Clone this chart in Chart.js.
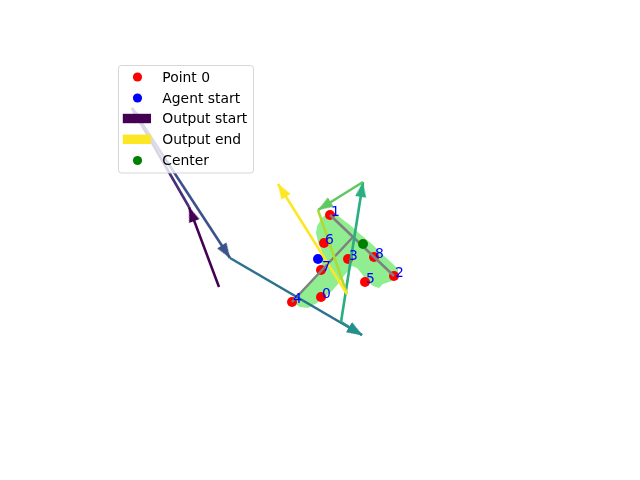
<!DOCTYPE html>
<html>
<head>
<meta charset="utf-8">
<script src="https://cdn.jsdelivr.net/npm/chart.js@4/dist/chart.umd.min.js"></script>
<style>
html,body{margin:0;padding:0;background:#fff;}
canvas{display:block;}
</style>
</head>
<body>
<canvas id="c" width="640" height="480"></canvas>
<script>
// ---------------- data ----------------
const pointLabels = ['0','1','2','3','4','5','6','7','8'];
const pointX = [321, 330, 394, 348, 292, 365, 324, 321, 374];
const pointY = [183, 265, 204, 221, 178, 198, 237, 210, 223];

const agentX = [318];
const agentY = [221];

const centerX = [363];
const centerY = [236];

const crossLineX = [[330, 394], [292, 353]];
const crossLineY = [[265, 204], [178, 243]];

const arrowStartX = [219, 189, 132, 230, 341, 341, 363, 318, 347];
const arrowStartY = [193, 273, 372, 222, 158, 158, 298, 270, 186];
const arrowEndX   = [189, 132, 230, 362, 362, 363, 318, 347, 278];
const arrowEndY   = [273, 372, 222, 145, 145, 298, 270, 186, 296];

const regionX = [317,322,328,335,342,350,360,373,383,392,398,398,392,383,379,373,367,362,357,352,348,343,338,332,325,317,308,300,294,296,302,310,318,322,322,318,316];
const regionY = [254,262,268,267,261,255,246,235,225,217,211,202,199,196,192,194,199,206,212,214,209,203,196,189,183,177,172,173,177,184,190,198,207,217,228,238,247];

const legendLabels = ['Point 0', 'Agent start', 'Output start', 'Output end', 'Center'];

// ---------------- styles ----------------
const viridis9 = ['#440154','#472d7b','#3b528b','#2c728e','#21918c','#28ae80','#5ec962','#addc30','#fde725'];
const arrowHasHead = [true, true, true, true, true, true, true, false, true];
const FONT = "13.9px 'DejaVu Sans', sans-serif";

function makeHead(color) {
  const L = 15, W = 5.5;
  const size = 2 * L + 2;
  const cv = document.createElement('canvas');
  cv.width = size; cv.height = size;
  const g = cv.getContext('2d');
  const cx = size / 2, cy = size / 2;
  g.fillStyle = color;
  g.beginPath();
  g.moveTo(cx, cy);
  g.lineTo(cx - L, cy - W);
  g.lineTo(cx - L, cy + W);
  g.closePath();
  g.fill();
  return cv;
}

const datasets = [];

// red points
datasets.push({
  data: pointX.map((x, i) => ({x, y: pointY[i]})),
  pointRadius: 5,
  pointBackgroundColor: '#ff0000',
  pointBorderWidth: 0,
  borderColor: '#ff0000',
  order: 95
});

// agent start
datasets.push({
  data: agentX.map((x, i) => ({x, y: agentY[i]})),
  pointRadius: 5,
  pointBackgroundColor: '#0000ff',
  pointBorderWidth: 0,
  order: 94
});

// cross lines
crossLineX.forEach((xs, k) => {
  datasets.push({
    data: xs.map((x, i) => ({x, y: crossLineY[k][i]})),
    showLine: true,
    borderColor: '#808080',
    borderWidth: 2.5,
    pointRadius: 0,
    fill: false,
    order: 90
  });
});

// center
datasets.push({
  data: centerX.map((x, i) => ({x, y: centerY[i]})),
  pointRadius: 5,
  pointBackgroundColor: '#008000',
  pointBorderWidth: 0,
  order: 85
});

// arrows
arrowStartX.forEach((sx, i) => {
  const color = viridis9[i];
  datasets.push({
    data: [{x: sx, y: arrowStartY[i]}, {x: arrowEndX[i], y: arrowEndY[i]}],
    showLine: true,
    borderColor: color,
    borderWidth: 2.6,
    borderCapStyle: 'butt',
    fill: false,
    pointStyle: makeHead(color),
    pointRadius: [0, arrowHasHead[i] ? 5 : 0],
    pointBorderWidth: 0,
    rotation: (ctx) => {
      const ch = ctx.chart;
      const d = ctx.dataset.data;
      const xs = ch.scales.x, ys = ch.scales.y;
      const x0 = xs.getPixelForValue(d[0].x), y0 = ys.getPixelForValue(d[0].y);
      const x1 = xs.getPixelForValue(d[1].x), y1 = ys.getPixelForValue(d[1].y);
      return Math.atan2(y1 - y0, x1 - x0) * 180 / Math.PI;
    },
    order: 80 - i
  });
});

const regionPlugin = {
  id: 'region',
  beforeDatasetsDraw(chart) {
    const ctx = chart.ctx;
    const xs = chart.scales.x, ys = chart.scales.y;
    ctx.save();
    ctx.beginPath();
    regionX.forEach((x, i) => {
      const px = xs.getPixelForValue(x), py = ys.getPixelForValue(regionY[i]);
      if (i === 0) ctx.moveTo(px, py); else ctx.lineTo(px, py);
    });
    ctx.closePath();
    ctx.fillStyle = '#90ee90';
    ctx.fill();
    ctx.restore();
  }
};

const labelPlugin = {
  id: 'pointLabels',
  afterDatasetsDraw(chart) {
    const ctx = chart.ctx;
    const xs = chart.scales.x, ys = chart.scales.y;
    ctx.save();
    ctx.font = FONT;
    ctx.fillStyle = '#0000ff';
    ctx.textAlign = 'left';
    ctx.textBaseline = 'alphabetic';
    pointLabels.forEach((t, i) => {
      ctx.fillText(t, xs.getPixelForValue(pointX[i]) + 1, ys.getPixelForValue(pointY[i]) + 1);
    });
    ctx.restore();
  }
};

const legendPlugin = {
  id: 'customLegend',
  afterDraw(chart) {
    const ctx = chart.ctx;
    ctx.save();
    const bx = 118.5, by = 65.5, bw = 135, bh = 107.5, r = 3;
    ctx.beginPath();
    ctx.moveTo(bx + r, by);
    ctx.lineTo(bx + bw - r, by);
    ctx.arcTo(bx + bw, by, bx + bw, by + r, r);
    ctx.lineTo(bx + bw, by + bh - r);
    ctx.arcTo(bx + bw, by + bh, bx + bw - r, by + bh, r);
    ctx.lineTo(bx + r, by + bh);
    ctx.arcTo(bx, by + bh, bx, by + bh - r, r);
    ctx.lineTo(bx, by + r);
    ctx.arcTo(bx, by, bx + r, by, r);
    ctx.closePath();
    ctx.fillStyle = 'rgba(255,255,255,0.8)';
    ctx.fill();
    ctx.strokeStyle = 'rgba(204,204,204,0.8)';
    ctx.lineWidth = 1;
    ctx.stroke();

    const rows = [77, 98, 118.5, 139.3, 160.5];
    const mx = 137.5;
    const kinds = [['dot', '#ff0000'], ['dot', '#0000ff'], ['rect', viridis9[0]], ['rect', viridis9[8]], ['dot', '#008000']];
    kinds.forEach((k, i) => {
      const cy = rows[i];
      ctx.fillStyle = k[1];
      if (k[0] === 'dot') {
        ctx.beginPath();
        ctx.arc(mx, cy, 4.6, 0, Math.PI * 2);
        ctx.fill();
      } else {
        ctx.fillRect(122.8, cy - 4.7, 28.2, 9.4);
      }
      ctx.fillStyle = '#000000';
      ctx.font = FONT;
      ctx.textAlign = 'left';
      ctx.textBaseline = 'alphabetic';
      ctx.fillText(legendLabels[i], 162.3, cy + 4.6);
    });
    ctx.restore();
  }
};

new Chart(document.getElementById('c'), {
  type: 'scatter',
  data: { datasets },
  options: {
    responsive: false,
    devicePixelRatio: 1,
    animation: false,
    events: [],
    layout: { padding: 0, autoPadding: false },
    scales: {
      x: { type: 'linear', min: 0, max: 640, display: false },
      y: { type: 'linear', min: 0, max: 480, display: false }
    },
    plugins: {
      legend: { display: false },
      tooltip: { enabled: false }
    }
  },
  plugins: [regionPlugin, labelPlugin, legendPlugin]
});
</script>
</body>
</html>
